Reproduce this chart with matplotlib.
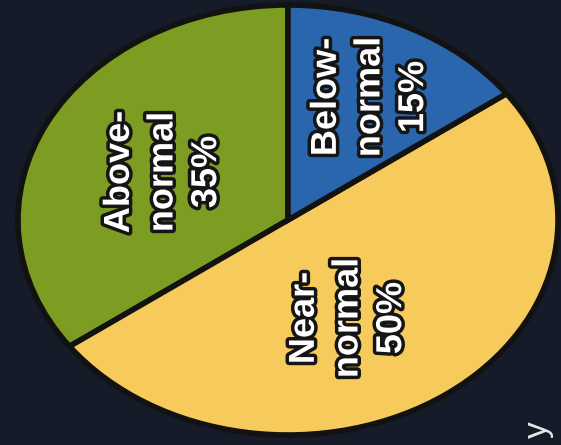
import matplotlib.pyplot as plt
import matplotlib.patheffects as pe

# =========================
# DATA
# =========================
categories = ["Above-\nnormal", "Near-\nnormal", "Below-\nnormal"]
shares = [35, 50, 15]
colors = ["#7c9c22", "#f7cb5b", "#2966ae"]

# label anchor positions (pixels in the 561x445 picture)
label_px = [(163, 172), (348, 318), (370, 97)]

# =========================
# LAYOUT
# =========================
W, H = 561, 445
cx, cy = 288, 220      # pie centre in pixels
rx, ry = 270, 215      # pie half-width / half-height in pixels
bg = "#161b29"
font = ["Liberation Sans", "DejaVu Sans"]

fig = plt.figure(figsize=(W / 100, H / 100), dpi=100, facecolor=bg)
ax = fig.add_axes([0, 0, 1, 1])
ax.set_facecolor(bg)

ax.pie(shares, colors=colors, startangle=90, counterclock=True,
       wedgeprops=dict(edgecolor="#121212", linewidth=4))

ax.set_aspect("auto")
ax.set_xlim(-cx / rx, (W - cx) / rx)
ax.set_ylim(-(H - cy) / ry, cy / ry)
ax.axis("off")

outline = [pe.withStroke(linewidth=5, foreground="#151515")]
for cat, val, (px, py) in zip(categories, shares, label_px):
    x = (px - cx) / rx
    y = (cy - py) / ry
    ax.text(x, y, f"{cat}\n{val}%", rotation=90, ha="center", va="center",
            multialignment="center", linespacing=1.32,
            fontsize=26, fontweight="bold", color="white",
            family=font, path_effects=outline)

# cut-off word at the bottom right edge
ax.text((538 - cx) / rx, (cy - 430) / ry, "y", rotation=90, ha="center",
        va="center", fontsize=24, color="#e8e8e8", family=font)

fig.savefig("out.png", dpi=100, facecolor=bg)
